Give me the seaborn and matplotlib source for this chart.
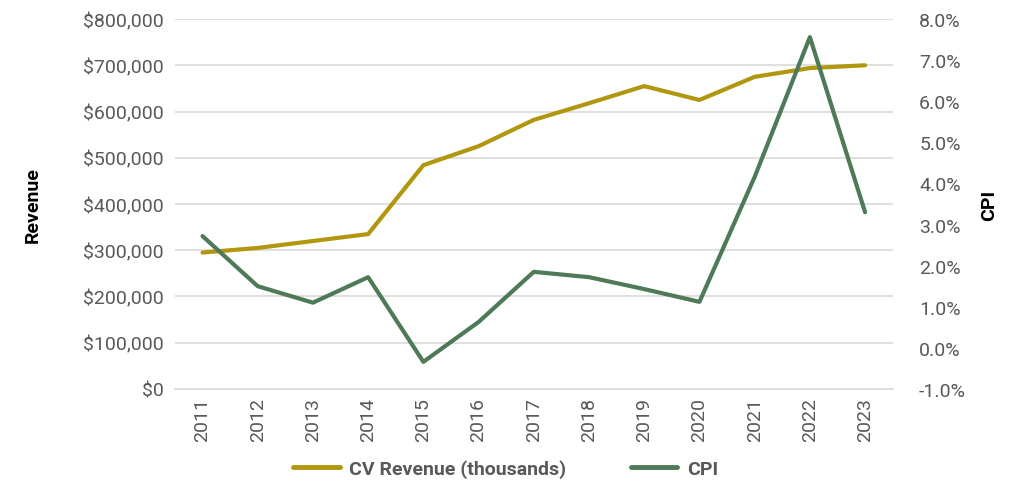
import matplotlib
matplotlib.use("Agg")
import matplotlib.pyplot as plt
import matplotlib.ticker as mtick
from matplotlib.lines import Line2D
import seaborn as sns
import pandas as pd

years = [2011, 2012, 2013, 2014, 2015, 2016, 2017, 2018, 2019, 2020, 2021, 2022, 2023]
revenue = [295000, 305000, 320000, 335000, 484000, 525000, 582000, 618000, 655000, 625000, 675000, 694000, 700000]
cpi = [2.72, 1.50, 1.10, 1.72, -0.34, 0.63, 1.85, 1.72, 1.43, 1.12, 4.16, 7.56, 3.30]

df = pd.DataFrame({"Year": years, "Revenue": revenue, "CPI": cpi})

sns.set_theme(style="white")
plt.rcParams["font.family"] = ["Roboto", "DejaVu Sans"]

gold = "#B0970E"
green = "#4E7A58"
tick_col = "#595959"

fig, ax = plt.subplots(figsize=(10.11, 4.89), dpi=100)
fig.subplots_adjust(left=0.173, right=0.883, top=0.959, bottom=0.2025)
ax2 = ax.twinx()

sns.lineplot(data=df, x="Year", y="Revenue", ax=ax, color=gold, lw=3, legend=False)
sns.lineplot(data=df, x="Year", y="CPI", ax=ax2, color=green, lw=3, legend=False)

ax.set_xlim(2010.5, 2023.5)
ax.set_ylim(0, 800000)
ax.set_yticks(range(0, 800001, 100000))
ax.yaxis.set_major_formatter(mtick.FuncFormatter(lambda v, p: f"${v:,.0f}"))
ax2.set_ylim(-1, 8)
ax2.set_yticks(range(-1, 9))
ax2.yaxis.set_major_formatter(mtick.FuncFormatter(lambda v, p: f"{v:.1f}%"))

ax.set_xticks(years)
ax.set_xticklabels([str(y) for y in years], rotation=90)
ax.grid(axis="y", color="#D9D9D9", lw=1.2)
ax.set_axisbelow(True)

for a in (ax, ax2):
    for s in a.spines.values():
        s.set_visible(False)
    a.tick_params(length=0, labelsize=14, colors=tick_col)
ax.tick_params(axis="y", pad=8)
ax.tick_params(axis="x", pad=6)
ax2.tick_params(axis="y", pad=19)
ax.spines["bottom"].set_visible(True)
ax.spines["bottom"].set_color("#D9D9D9")
ax.spines["bottom"].set_linewidth(1.2)

ax.set_xlabel("")
ax.set_ylabel("Revenue", fontsize=14, fontweight="bold", color="black", labelpad=30)
ax2.set_ylabel("CPI", fontsize=14, fontweight="bold", color="black", labelpad=10)

handles = [Line2D([], [], color=gold, lw=3.5), Line2D([], [], color=green, lw=3.5)]
leg = fig.legend(handles, ["CV Revenue (thousands)", "CPI"], loc="lower center",
                 bbox_to_anchor=(0.5, -0.015), ncol=2, frameon=False,
                 prop={"size": 14, "weight": "bold"}, handlelength=2.4,
                 handletextpad=0.5, columnspacing=3.3)
for t in leg.get_texts():
    t.set_color(tick_col)

fig.savefig("out.png", dpi=100)
